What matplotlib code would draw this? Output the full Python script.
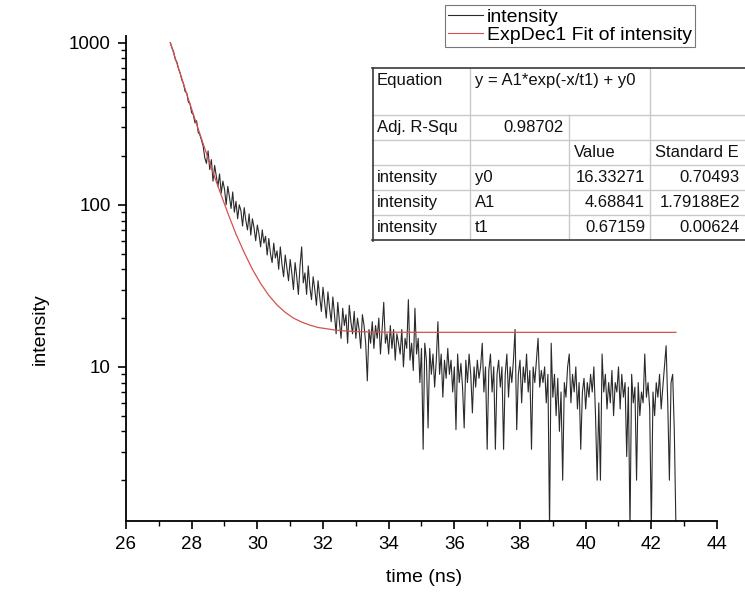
import numpy as np
import matplotlib.pyplot as plt
from matplotlib.ticker import MultipleLocator, LogLocator, NullFormatter

plt.rcParams['font.family'] = ['Liberation Sans', 'DejaVu Sans']

# decay trace, one value per 0.05 ns channel starting at 27.35 ns
t_start = 27.35
t_step = 0.05
intensity = [
    1000, 930, 880, 790, 760, 690, 650, 590, 560, 500,
    490, 430, 420, 370, 360, 320, 330, 280, 270, 250,
    230, 195, 180, 215, 165, 190, 140, 175, 150, 130,
    155, 118, 140, 125, 100, 130, 112, 95, 120, 90,
    105, 82, 100, 92, 74, 96, 80, 70, 88, 65,
    82, 72, 60, 75, 66, 55, 70, 58, 64, 49,
    62, 50, 44, 58, 47, 52, 40, 55, 43, 36,
    49, 41, 34, 46, 38, 30, 44, 36, 28, 42,
    55, 33, 38, 28, 42, 31, 26, 36, 30, 24,
    34, 27, 22, 31, 25, 20, 29, 23, 19, 27,
    21, 16, 25, 19, 15, 23, 18, 21, 14, 24,
    19, 16, 22, 15, 20, 17, 13, 21, 18, 14,
    8.2, 17, 14, 19, 13, 18, 15, 20, 12, 17,
    25, 14, 16, 12, 18, 13, 17, 11, 16, 14,
    12, 17, 10, 15, 13, 26, 11, 14, 9.5, 23,
    12, 15, 8, 13, 3.1, 14, 11, 4.2, 13, 9,
    12, 7.5, 11, 19, 9, 12, 6.5, 11, 8.5, 13,
    9, 11, 7, 10, 4.1, 12, 8, 10.5, 7.5, 4.2,
    11, 8, 12, 9, 5.2, 10, 7.5, 11, 8.5, 10,
    14, 7, 10, 3.1, 9.5, 12, 7, 10, 3.1, 9,
    11, 7.5, 10, 3.1, 9, 12, 6.5, 10, 8, 11,
    17, 4.1, 9, 11, 6, 10, 8, 12, 7, 9.5,
    3.1, 10, 8, 11, 15, 7.5, 9.5, 8, 10, 6,
    9, 1.0, 14, 6.5, 9, 5, 8.5, 4, 7, 2.0,
    8, 6.5, 10, 12, 6, 9, 7, 10, 5.5, 8,
    3.1, 7, 8.5, 5.5, 8, 6.5, 9, 7, 10, 5,
    2.0, 6, 2.0, 12, 7, 9, 5.5, 8, 6, 9.5,
    5, 8, 7, 10, 5.5, 9, 6.5, 8, 2.8, 7.5,
    1.0, 9, 6, 7.5, 2.0, 8, 5, 7, 6, 12,
    6.5, 8, 5.5, 1.0, 7, 5, 8, 6.5, 9, 5.5,
    7.5, 10, 13.5, 6, 2.0, 8, 9, 4, 1.0,
]
time = t_start + t_step * np.arange(len(intensity))

# ExpDec1 fit curve
fit_time = [27.35, 27.6, 27.85, 28.1, 28.35, 28.6, 28.85, 29.1, 29.35, 29.6,
            29.85, 30.1, 30.35, 30.6, 30.85, 31.1, 31.35, 31.6, 31.85, 32.1,
            32.35, 32.6, 33.0, 33.5, 34.0, 35.0, 42.75]
fit_intensity = [1000, 694, 483, 338, 238, 169, 122, 89, 66, 50.8,
                 40, 32.7, 27.6, 24.1, 21.7, 20.0, 18.9, 18.1, 17.5, 17.2,
                 16.9, 16.7, 16.5, 16.4, 16.37, 16.34, 16.33]

x_ticks = [26, 28, 30, 32, 34, 36, 38, 40, 42, 44]
y_ticks = [10, 100, 1000]
y_tick_labels = ['10', '100', '1000']

# fit report table
table_rows = [
    ["Equation", "y = A1*exp(-x/t1) + y0", "", ""],
    ["Adj. R-Squ", "0.98702", "", ""],
    ["", "", "Value", "Standard E"],
    ["intensity", "y0", "16.33271", "0.70493"],
    ["intensity", "A1", "4.68841", "1.79188E2"],
    ["intensity", "t1", "0.67159", "0.00624"],
]
table_align = [
    ["l", "l", "l", "l"],
    ["l", "r", "l", "l"],
    ["l", "l", "l", "l"],
    ["l", "l", "r", "r"],
    ["l", "l", "r", "r"],
    ["l", "l", "r", "r"],
]

W, H = 745, 600
fig = plt.figure(figsize=(W / 100, H / 100), dpi=100)
ax = fig.add_axes([126 / W, 1 - 521 / H, 591 / W, 485 / H])

ax.plot(time, intensity, color='#2a2a2a', linewidth=0.8, label='intensity')
ax.plot(fit_time, fit_intensity, color='#d65050', linewidth=0.9,
        label='ExpDec1 Fit of intensity')

ax.set_yscale('log')
ax.set_xlim(26, 44)
ax.set_ylim(1.12, 1100)
ax.set_xticks(x_ticks)
ax.set_xticklabels([str(v) for v in x_ticks])
ax.xaxis.set_minor_locator(MultipleLocator(1))
ax.set_yticks(y_ticks)
ax.set_yticklabels(y_tick_labels)
ax.yaxis.set_minor_locator(LogLocator(base=10, subs=np.arange(2, 10)))
ax.yaxis.set_minor_formatter(NullFormatter())

for side in ['top', 'right']:
    ax.spines[side].set_visible(False)
for side in ['left', 'bottom']:
    ax.spines[side].set_linewidth(1.3)
ax.tick_params(which='major', direction='out', length=6, width=1.2,
               labelsize=13.5, pad=5)
ax.tick_params(which='minor', direction='out', length=3.5, width=1.0)

ax.set_xlabel('time (ns)', fontsize=14)
ax.set_ylabel('intensity', fontsize=14)
ax.xaxis.set_label_coords(0.504, -0.1)
ax.yaxis.set_label_coords(-0.13, 0.396)

leg = ax.legend(loc='upper left', bbox_to_anchor=(445 / W, 1 - 5 / H),
                bbox_transform=fig.transFigure, fontsize=14, frameon=True,
                fancybox=False, borderpad=0.15, labelspacing=0.05,
                handlelength=1.8, handletextpad=0.2, borderaxespad=0)
leg.get_frame().set_edgecolor('#555555')
leg.get_frame().set_linewidth(0.8)
for line in leg.get_lines():
    line.set_linewidth(0.8)

# table drawn in pixel coordinates
col_edges = [372, 470, 569, 650, 745]
row_edges = [68, 115, 140, 165, 190, 215, 241]
tax = fig.add_axes([372 / W, 1 - 241 / H, (W - 372) / W, (241 - 68) / H])
tax.set_xlim(372, W)
tax.set_ylim(241, 68)
tax.axis('off')

light = '#c9c9c9'
dark = '#3a3a3a'
for y in row_edges[1:-1]:
    tax.plot([col_edges[0], W], [y, y], color=light, lw=1.0, clip_on=False)
tax.plot([col_edges[1], col_edges[1]], [68, 241], color=light, lw=1.0)
tax.plot([col_edges[2], col_edges[2]], [115, 241], color=light, lw=1.0)
tax.plot([col_edges[3], col_edges[3]], [68, 241], color=light, lw=1.0)
tax.plot([372, W], [68.5, 68.5], color=dark, lw=1.2, clip_on=False)
tax.plot([372.5, 372.5], [68, 241], color=dark, lw=1.2, clip_on=False)
tax.plot([372, W], [240.5, 240.5], color=dark, lw=1.2, clip_on=False)

for r, row in enumerate(table_rows):
    y0, y1 = row_edges[r], row_edges[r + 1]
    yc = y0 + 12 if r == 0 else (y0 + y1) / 2
    for c, txt in enumerate(row):
        if not txt:
            continue
        if table_align[r][c] == 'l':
            tax.text(col_edges[c] + 5, yc, txt, ha='left', va='center',
                     fontsize=12, color='#111111')
        else:
            tax.text(col_edges[c + 1] - 5, yc, txt, ha='right', va='center',
                     fontsize=12, color='#111111')

fig.savefig('out.png', dpi=100)
